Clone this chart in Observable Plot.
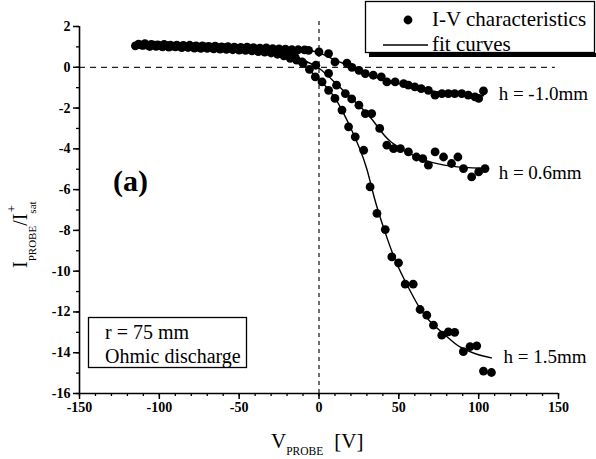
<!DOCTYPE html>
<html><head><meta charset="utf-8">
<script src="https://cdn.jsdelivr.net/npm/d3@7"></script>
<script src="https://cdn.jsdelivr.net/npm/@observablehq/plot@0.6"></script>
<style>body{margin:0;background:#fff}</style>
</head><body><div id="chart"></div>
<script>
// ---- data ----
const seriesNames = ["h = -1.0mm", "h = 0.6mm", "h = 1.5mm"];

// h = -1.0mm measured points
const vA = [-113,-109,-105,-101,-97,-93,-89,-85,-81,-77,-73,-69,-65,-61,-57,-53,-49,-45,-41,-37,-33,-29,-25,-21,-17,-13,-9,
  -6.5,0,6,10,17.5,20.6,25,29,34,39,42.5,47.7,53,56,60,64,68.5,72.7,77,81,85,89.4,93.5,97.7,100,103];
const iA = [1.14,1.16,1.12,1.1,1.12,1.08,1.09,1.07,1.08,1.05,1.05,1.03,1.04,1.0,1.01,0.99,0.98,0.99,0.96,0.94,0.95,0.91,0.9,0.89,0.87,0.86,0.85,
  0.83,0.75,0.67,0.26,0.2,0.0,-0.15,-0.31,-0.39,-0.47,-0.72,-0.72,-0.8,-0.88,-0.96,-1.05,-1.13,-1.37,-1.29,-1.29,-1.29,-1.29,-1.37,-1.45,-1.53,-1.16];

// h = 0.6mm measured points
const vB = [-111,-107,-103,-99,-95,-91,-87,-83,-79,-75,-71,-67,-63,-59,-55,-51,-47,-43,-39,-35,-31,-27,-23,-19,-15,
  -10.6,-2,6,11,16.5,20.5,25,29,33,38,42.5,46.7,51,56,61,65,68.5,72.7,78,83,87,90.5,95.6,100,104];
const iB = [1.08,1.07,1.08,1.05,1.06,1.04,1.03,1.03,1.0,0.99,1.0,0.97,0.96,0.96,0.93,0.92,0.9,0.89,0.86,0.84,0.81,0.78,0.72,0.62,0.5,
  0.26,0.1,-0.3,-0.88,-1.29,-1.55,-1.86,-2.27,-2.27,-3.0,-3.82,-3.99,-3.99,-4.15,-4.4,-4.48,-4.8,-4.15,-4.4,-4.72,-4.4,-4.97,-5.38,-5.13,-4.97];

// h = 1.5mm measured points
const vC = [-115,-110,-106,-102,-98,-94,-90,-86,-82,-78,-74,-70,-66,-62,-58,-54,-50,-46,-42,-38,-34,-30,-26,-22,-18,-14,-10,-6,
  -2.3,1.9,6,10,14.4,18.5,22.7,28,32,36.3,41.5,45.6,49.8,54,59,63.3,67.5,71.7,76.9,81,85,90.4,94.6,98.8,103,108];
const iC = [1.05,1.07,1.02,1.03,1.0,0.99,1.0,0.96,0.97,0.94,0.93,0.93,0.9,0.89,0.88,0.86,0.84,0.83,0.8,0.77,0.74,0.7,0.64,0.56,0.44,0.35,0.2,-0.1,
  -0.47,-0.72,-1.13,-1.53,-2.1,-2.92,-3.41,-4.07,-5.87,-7.17,-7.96,-9.3,-9.59,-10.64,-10.64,-11.88,-12.16,-12.65,-13.14,-12.98,-13.0,-13.95,-13.7,-13.66,-14.9,-14.97];

// fit curves
const fitVA = [-115,-80,-50,-25,-10,0,10,20,30,40,50,60,70,80,90,103];
const fitIA = [1.12,1.05,0.98,0.9,0.85,0.72,0.35,0.05,-0.32,-0.6,-0.8,-0.98,-1.15,-1.28,-1.35,-1.4];
const fitVB = [-115,-80,-50,-25,-10,0,10,20,31,38,45,55,66,83,102];
const fitIB = [1.08,1.03,0.95,0.75,0.35,-0.05,-0.75,-1.5,-2.35,-3.05,-3.65,-4.15,-4.55,-4.85,-4.95];
const fitVC = [-115,-80,-50,-30,-20,-10,0,5,10,15,20,25,30,35,41,48,56,63,70,80,88,98,108];
const fitIC = [1.06,1.0,0.92,0.76,0.55,0.12,-0.6,-1.0,-1.5,-2.2,-3.0,-3.9,-5.0,-6.5,-8.0,-9.5,-10.8,-11.8,-12.5,-13.2,-13.7,-14.05,-14.25];

const xTicks = [-150,-100,-50,0,50,100,150];
const yTicks = [2,0,-2,-4,-6,-8,-10,-12,-14,-16];
const xMinor = d3.range(-150, 151, 10);
const yMinor = d3.range(-16, 2.1, 1);

// ---- tables for the library ----
const pts = [[vA,iA],[vB,iB],[vC,iC]].flatMap(([v,i],k) => v.map((x,j) => ({series: seriesNames[k], v: x, i: i[j]})));
const fits = [[fitVA,fitIA],[fitVB,fitIB],[fitVC,fitIC]].flatMap(([v,i],k) => v.map((x,j) => ({series: seriesNames[k], v: x, i: i[j]})));
const labelRows = [
  {t: seriesNames[0], v: 112.5, i: -1.3},
  {t: seriesNames[1], v: 112.5, i: -5.2},
  {t: seriesNames[2], v: 115.5, i: -14.2}
];

const font = "'Liberation Serif', 'Times New Roman', serif";
const plot = Plot.plot({
  width: 596, height: 459,
  marginLeft: 79, marginRight: 38, marginTop: 26, marginBottom: 66,
  x: {domain: [-150, 150]},
  y: {domain: [-16, 2]},
  style: {fontFamily: font, fontSize: "14px", color: "black", background: "white", overflow: "visible"},
  marks: [
    Plot.ruleY([0], {x1: -150, x2: 148, stroke: "#222", strokeWidth: 1.3, strokeDasharray: "6,5"}),
    Plot.ruleX([0], {y1: -16, y2: 2.3, stroke: "#222", strokeWidth: 1.3, strokeDasharray: "4,4"}),
    Plot.line(fits, {x: "v", y: "i", z: "series", curve: "natural", stroke: "black", strokeWidth: 1.4}),
    Plot.dot(pts, {x: "v", y: "i", r: 4.4, fill: "black"}),
    Plot.axisX({ticks: xMinor, tickSize: 3, tickFormat: () => "", label: null, strokeWidth: 1.3}),
    Plot.axisX({ticks: xTicks, tickSize: 6, tickPadding: 3, tickFormat: d => String(d), label: null, strokeWidth: 1.5}),
    Plot.axisY({ticks: yMinor, tickSize: 3, tickFormat: () => "", label: null, strokeWidth: 1.3}),
    Plot.axisY({ticks: yTicks, tickSize: 6, tickPadding: 3, tickFormat: d => String(d), label: null, strokeWidth: 1.5}),
    Plot.ruleY([-16], {stroke: "black", strokeWidth: 1.6}),
    Plot.ruleX([-150], {stroke: "black", strokeWidth: 1.6}),
    Plot.text(labelRows, {x: "v", y: "i", text: "t", textAnchor: "start", fontSize: 19, fill: "black"}),
    Plot.text(["(a)"], {x: -129, y: -5.6, textAnchor: "start", fontSize: 30, fontWeight: "bold", fill: "black"})
  ]
});
document.getElementById("chart").appendChild(plot);

// ---- annotation boxes and axis titles ----
const svg = d3.select(plot);
const g = svg.append("g").attr("fill", "black").attr("text-anchor", "start");

// legend box with shadow
g.append("rect").attr("x", 369).attr("y", 53).attr("width", 230).attr("height", 4).attr("fill", "black");
g.append("rect").attr("x", 365.5).attr("y", 1.5).attr("width", 229).attr("height", 51).attr("fill", "white").attr("stroke", "black").attr("stroke-width", 1.3);
g.append("circle").attr("cx", 408).attr("cy", 20).attr("r", 4.4).attr("fill", "black");
g.append("line").attr("x1", 383).attr("x2", 428).attr("y1", 45).attr("y2", 45).attr("stroke", "black").attr("stroke-width", 1.3);
g.append("text").attr("x", 432).attr("y", 26).attr("font-size", 21).text("I-V characteristics");
g.append("text").attr("x", 432).attr("y", 51).attr("font-size", 21).text("fit curves");

// info box
g.append("rect").attr("x", 88.5).attr("y", 317.5).attr("width", 158).attr("height", 50).attr("fill", "white").attr("stroke", "black").attr("stroke-width", 1.3);
g.append("text").attr("x", 105).attr("y", 339).attr("font-size", 20).text("r = 75 mm");
g.append("text").attr("x", 105).attr("y", 363).attr("font-size", 20).text("Ohmic discharge");

// x axis title
const xt = g.append("text").attr("x", 271).attr("y", 448).attr("font-size", 21);
xt.append("tspan").text("V");
xt.append("tspan").attr("font-size", 11.5).attr("dy", 7).text("PROBE");
xt.append("tspan").attr("dy", -7).attr("dx", 11).text("[V]");

// y axis title (rotated)
const yt = g.append("text").attr("transform", "rotate(-90)").attr("x", -268).attr("y", 27).attr("font-size", 20);
yt.append("tspan").text("I");
yt.append("tspan").attr("font-size", 11).attr("dy", 9).text("PROBE");
yt.append("tspan").attr("dy", -9).text("/I");
yt.append("tspan").attr("font-size", 11).attr("dy", 9).text("sat");
yt.append("tspan").attr("font-size", 13).attr("dy", -20).attr("dx", -11).text("+");

// every text in Times-like serif; numeric tick labels bold
svg.selectAll("text, tspan").style("font-family", font);
svg.selectAll("text")
  .filter(function() { return /^-?\d+$/.test(this.textContent); })
  .style("font-weight", "bold").style("font-size", "14px");
</script>
</body></html>
